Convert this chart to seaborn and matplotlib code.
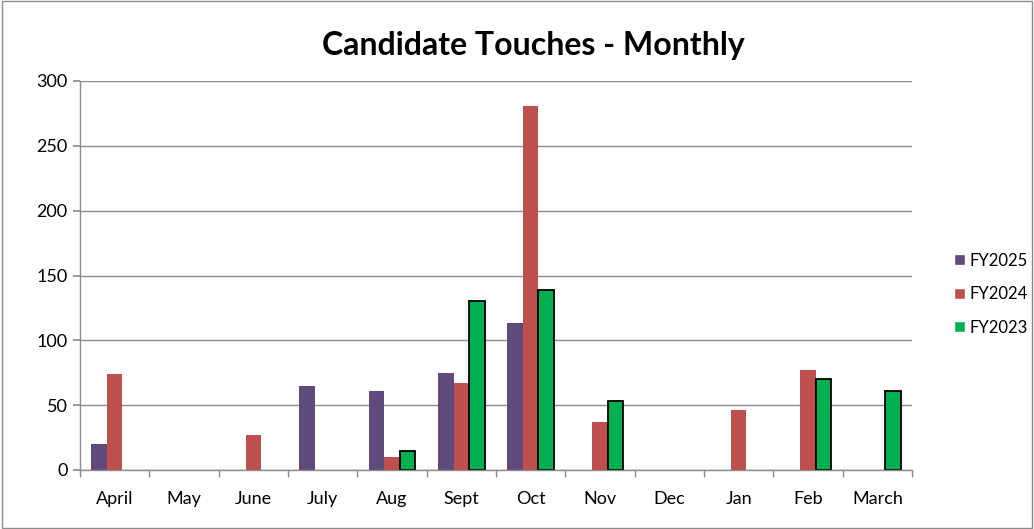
import numpy as np
import pandas as pd
import matplotlib
matplotlib.use("Agg")
import matplotlib.pyplot as plt
import seaborn as sns
from matplotlib.patches import Rectangle

months = ["April", "May", "June", "July", "Aug", "Sept", "Oct", "Nov", "Dec", "Jan", "Feb", "March"]
fy2025 = [20, np.nan, np.nan, 65, 61, 75, 113, np.nan, np.nan, np.nan, np.nan, np.nan]
fy2024 = [74, np.nan, 27, np.nan, 10, 67, 281, 37, np.nan, 46, 77, np.nan]
fy2023 = [np.nan, np.nan, np.nan, np.nan, 15, 130, 139, 53, np.nan, np.nan, 70, 61]
series_names = ["FY2025", "FY2024", "FY2023"]
colors = ["#604A7B", "#C0504D", "#00B050"]

rows = []
for name, vals in zip(series_names, [fy2025, fy2024, fy2023]):
    for m, v in zip(months, vals):
        rows.append({"Month": m, "Series": name, "Value": v})
df = pd.DataFrame(rows)

sns.set_theme(style="white")
plt.rcParams['font.family'] = ['Lato', 'DejaVu Sans']

fig = plt.figure(figsize=(10.34, 5.29), dpi=100)
ax = fig.add_axes([80/1034, 1 - 470/529, 832/1034, 389/529])

sns.barplot(data=df, x="Month", y="Value", hue="Series", order=months,
            hue_order=series_names, palette=colors, width=0.67,
            saturation=1, ax=ax, errorbar=None, legend=True)

# black edge for FY2023 bars
for container, name in zip(ax.containers, series_names):
    for bar in container:
        if name == "FY2023":
            bar.set_edgecolor("black")
            bar.set_linewidth(1.3)
        else:
            bar.set_edgecolor("none")
            bar.set_linewidth(0)

ax.set_ylim(0, 300)
ax.set_xlim(-0.5, len(months) - 0.5)
ax.set_yticks([0, 50, 100, 150, 200, 250, 300])
ax.yaxis.grid(True, color="#8c8c8c", linewidth=1)
ax.set_axisbelow(True)
ax.set_xlabel("")
ax.set_ylabel("")
ax.set_title("Candidate Touches - Monthly", fontsize=23, fontweight="bold",
             pad=19, color="black", x=0.545)

for s in ["top", "right"]:
    ax.spines[s].set_visible(False)
for s in ["left", "bottom"]:
    ax.spines[s].set_color("#8c8c8c")
    ax.spines[s].set_linewidth(1)

ax.tick_params(axis="y", which="major", left=True, length=5, color="#8c8c8c",
               labelsize=13, pad=4, labelcolor="black")
ax.tick_params(axis="x", which="major", bottom=False, labelsize=13, pad=9, labelcolor="black")
ax.set_xticks(np.arange(-0.5, len(months) + 0.5), minor=True)
ax.tick_params(axis="x", which="minor", bottom=True, length=5, color="#8c8c8c")

handles, labels = ax.get_legend_handles_labels()
leg = ax.legend(handles, labels, loc="center left", bbox_to_anchor=(1.033, 0.452),
                frameon=False, fontsize=12, handlelength=0.65, handleheight=0.65,
                handletextpad=0.25, labelspacing=1.05)
for t in leg.get_texts():
    t.set_color("black")

# outer border
fig.patches.append(Rectangle((0.0015, 0.002), 0.997, 0.996, transform=fig.transFigure,
                             fill=False, edgecolor="#8c8c8c", linewidth=1))

fig.savefig("out.png", dpi=100)
